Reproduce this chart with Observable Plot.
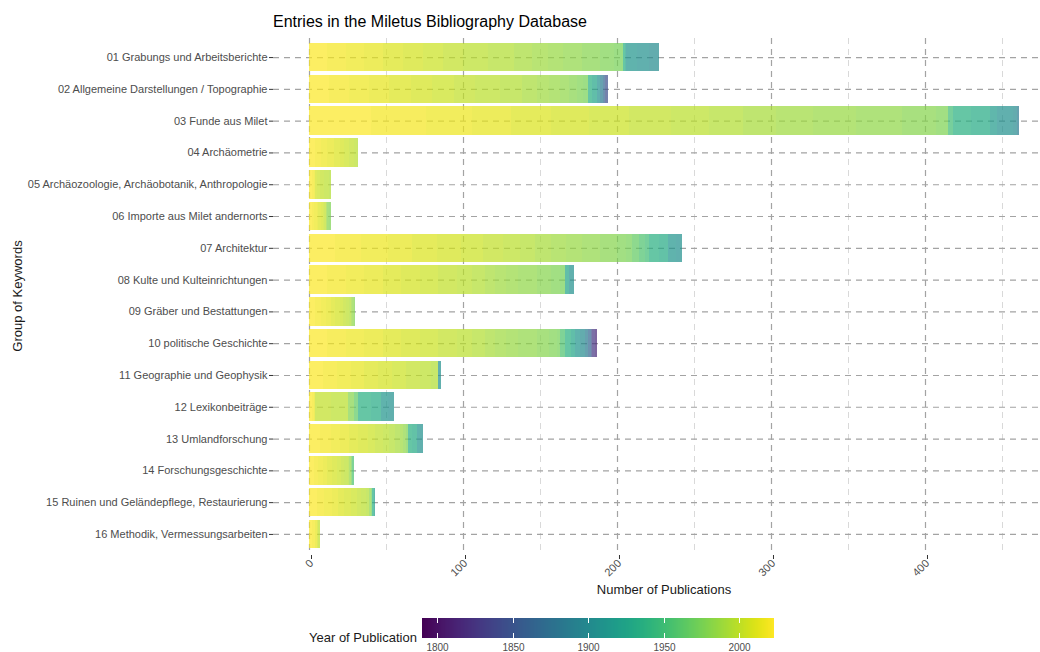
<!DOCTYPE html>
<html>
<head>
<meta charset="utf-8">
<script src="https://cdn.jsdelivr.net/npm/d3@7"></script>
<script src="https://cdn.jsdelivr.net/npm/@observablehq/plot@0.6"></script>
<style>
  html, body { margin: 0; padding: 0; background: #fff; overflow: hidden; }
  #wrap { position: relative; width: 1040px; height: 652px; overflow: hidden; font-family: "Liberation Sans", Arial, Helvetica, sans-serif; }
  #title { position: absolute; left: 273px; top: 14px; font-size: 16px; line-height: 16px; color: #000; white-space: nowrap; }
  #legtitle { position: absolute; left: 309px; top: 631px; font-size: 13px; line-height: 13px; color: #1a1a1a; white-space: nowrap; }
  #chart { position: absolute; left: 0; top: 0; }
  #legend { position: absolute; left: 422px; top: 618px; }
</style>
</head>
<body>
<div id="wrap">
  <div id="chart"></div>
  <div id="title">Entries in the Miletus Bibliography Database</div>
  <div id="legtitle">Year of Publication</div>
  <div id="legend"></div>
</div>
<script>
// ---- data ----
const categories = [
  "01 Grabungs und Arbeitsberichte",
  "02 Allgemeine Darstellungen / Topographie",
  "03 Funde aus Milet",
  "04 Archäometrie",
  "05 Archäozoologie, Archäobotanik, Anthropologie",
  "06 Importe aus Milet andernorts",
  "07 Architektur",
  "08 Kulte und Kulteinrichtungen",
  "09 Gräber und Bestattungen",
  "10 politische Geschichte",
  "11 Geographie und Geophysik",
  "12 Lexikonbeiträge",
  "13 Umlandforschung",
  "14 Forschungsgeschichte",
  "15 Ruinen und Geländepflege, Restaurierung",
  "16 Methodik, Vermessungsarbeiten"
];

// recent publication years (three-year groups, newest first)
const recentYears = [2022,2019,2016,2013,2010,2007,2004,2001,1998,1995,1992,1989,1986,1983,1980,1977,1974];

// publications per recent year group, one array per keyword group
const r01 = [12,12,12,12,13,13,13,13,16,17,12,10,10,12,12,9,6];
const r02 = [13,13,13,13,14,14,14,14,16,14,10,8,7,6,5,4,3];
const r03 = [40,36,30,25,26,25,26,27,25,22,21,24,28,30,22,8,0];
const r04 = [4,4,4,4,4,3,3,3,2,1,0,0,0,0,0,0,0];
const r05 = [2,1,1,0,0,1,2,3,3,1,0,0,0,0,0,0,0];
const r06 = [2,1,2,1,2,1,1,1,0,0,0,1,0,0,1,1,0];
const r07 = [17,17,17,16,16,16,14,13,11,10,10,10,10,12,11,6,4];
const r08 = [12,12,12,12,12,12,12,12,10,8,7,7,8,12,9,6,3];
const r09 = [4,4,3,3,3,3,2,2,2,1,0,1,0,1,0,1,0];
const r10 = [12,12,12,12,12,12,12,12,10,8,7,7,8,12,8,5,2];
const r11 = [9,9,9,9,9,9,9,9,7,5,0,0,0,0,0,0,0];
const r12 = [2,1,0,1,0,0,0,10,11,0,0,0,0,0,4,0,0];
const r13 = [7,7,6,6,6,6,5,5,4,4,3,2,0,2,0,1,0];
const r14 = [3,3,3,3,3,3,3,2,2,1,0,0,1,0,0,0,1];
const r15 = [5,5,5,4,4,4,4,3,3,2,0,0,0,1,0,0,1];
const r16 = [2,2,0,1,0,1,0,1,0,0,0,0,0,0,0,0,0];

// older publications: [year, count]
const o01 = [[1936,1],[1926,1],[1911,7],[1906,8],[1901,6]];
const o02 = [[1936,3],[1926,3],[1906,2],[1886,2],[1866,1],[1846,2]];
const o03 = [[1951,3],[1936,12],[1931,12],[1916,5],[1906,10],[1901,3],[1886,1]];
const o04 = [];
const o05 = [];
const o06 = [];
const o07 = [[1966,4],[1956,4],[1951,3],[1936,6],[1931,6],[1911,5],[1906,4]];
const o08 = [[1926,3],[1906,3]];
const o09 = [];
const o10 = [[1956,3],[1936,4],[1926,3],[1911,3],[1901,3],[1886,2],[1866,2],[1846,1],[1826,2],[1816,1]];
const o11 = [[1906,2]];
const o12 = [[1965,3],[1936,8],[1931,7],[1911,4],[1906,4]];
const o13 = [[1936,3],[1931,3],[1911,2],[1906,2]];
const o14 = [[1956,1]];
const o15 = [[1936,1],[1916,1]];
const o16 = [];

const recent = [r01,r02,r03,r04,r05,r06,r07,r08,r09,r10,r11,r12,r13,r14,r15,r16];
const older  = [o01,o02,o03,o04,o05,o06,o07,o08,o09,o10,o11,o12,o13,o14,o15,o16];

const majorTicks = [0, 100, 200, 300, 400];
const minorTicks = [50, 150, 250, 350, 450];
const legendTicks = [1800, 1850, 1900, 1950, 2000];
const yearDomain = [1790, 2023];

// table for Plot, newest year first within each stack
const table = [];
categories.forEach((cat, i) => {
  const rows = recent[i].map((n, j) => [recentYears[j], n]).concat(older[i]);
  rows.filter(d => d[1] > 0).sort((a, b) => b[0] - a[0]).forEach(([year, n]) => table.push({cat, year, n}));
});

const chart = Plot.plot({
  width: 1040,
  height: 604,
  marginLeft: 273,
  marginRight: 0,
  marginTop: 38,
  marginBottom: 51,
  style: {fontFamily: '"Liberation Sans", Arial, Helvetica, sans-serif', fontSize: "11px", color: "#4d4d4d", background: "#fff", overflow: "visible"},
  x: {domain: [-23.38, 474.68], label: null},
  y: {domain: categories, paddingInner: 0.1, paddingOuter: 0.15, round: false, label: null},
  color: {type: "linear", scheme: "viridis", domain: yearDomain},
  marks: [
    Plot.ruleX(minorTicks, {stroke: "#d9d9d9", strokeWidth: 1, strokeDasharray: "6,5"}),
    Plot.gridX(majorTicks, {stroke: "#a3a3a3", strokeOpacity: 1, strokeWidth: 1.2, strokeDasharray: "6,5"}),
    Plot.gridY({stroke: "#a3a3a3", strokeOpacity: 1, strokeWidth: 1.2, strokeDasharray: "6,5"}),
    Plot.barX(table, Plot.stackX({x: "n", y: "cat", fill: "year", fillOpacity: 0.71, shapeRendering: "crispEdges"})),
    Plot.axisX({ticks: majorTicks, tickRotate: -45, tickSize: 4, tickPadding: 2, dx: 2, dy: 2, label: null, stroke: "#333", fill: "#4d4d4d", fontSize: 11}),
    Plot.axisY({tickSize: 4, tickPadding: 2, label: null, stroke: "#333", fill: "#4d4d4d", fontSize: 11}),
    Plot.text(["Number of Publications"], {frameAnchor: "bottom", lineAnchor: "middle", textAnchor: "middle", dx: 7, dy: 36, fontSize: 13, fill: "#1a1a1a"}),
    Plot.text(["Group of Keywords"], {frameAnchor: "left", lineAnchor: "middle", textAnchor: "middle", dx: -256, rotate: -90, fontSize: 13, fill: "#1a1a1a"})
  ]
});
document.getElementById("chart").appendChild(chart);

const leg = chart.legend("color", {
  width: 352, height: 40,
  marginTop: 0, marginBottom: 20, marginLeft: 0, marginRight: 0,
  ticks: legendTicks, tickFormat: d => String(d), tickSize: 3,
  label: null,
  style: {fontFamily: '"Liberation Sans", Arial, Helvetica, sans-serif', fontSize: "10px", color: "#4d4d4d", background: "transparent", overflow: "visible"}
});
leg.querySelectorAll(".tick line").forEach(l => {
  l.setAttribute("y1", -20);
  l.setAttribute("y2", 0);
  l.setAttribute("stroke", "#fff");
  l.setAttribute("stroke-dasharray", "5,10,5");
});
document.getElementById("legend").appendChild(leg);
</script>
</body>
</html>
